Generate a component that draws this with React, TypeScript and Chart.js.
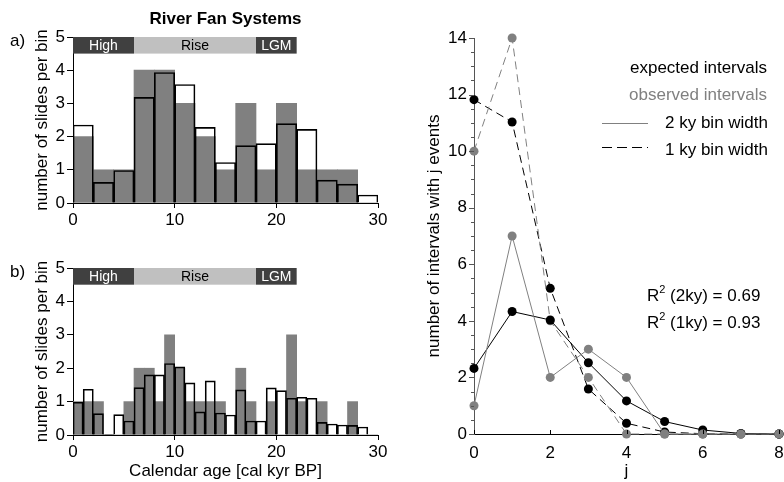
import React, { useEffect, useRef } from 'react';
import { Chart, registerables } from 'chart.js';

Chart.register(...registerables);

const FONT = "'Liberation Sans', Arial, Helvetica, sans-serif";
const GREY = '#808080';

// ---------- Panel a: 2 ky bins ----------
const bins2ky = ['0-2', '2-4', '4-6', '6-8', '8-10', '10-12', '12-14', '14-16', '16-18', '18-20', '20-22', '22-24', '24-26', '26-28', '28-30'];
const observed2ky = [2, 1, 1, 4, 4, 3, 2, 1, 3, 1, 3, 1, 1, 1, 0];
const expected2ky = [2.35, 0.62, 0.98, 3.18, 3.93, 3.57, 2.28, 1.22, 1.73, 1.79, 2.39, 2.22, 0.69, 0.57, 0.24];

// ---------- Panel b: 1 ky bins ----------
const bins1ky = ['0', '1', '2', '3', '4', '5', '6', '7', '8', '9', '10', '11', '12', '13', '14', '15', '16', '17', '18', '19', '20', '21', '22', '23', '24', '25', '26', '27', '28', '29'];
const observed1ky = [1, 1, 1, 0, 0, 1, 2, 2, 1, 3, 2, 1, 1, 1, 1, 0, 2, 1, 0, 1, 0, 3, 1, 0, 1, 0, 0, 1, 0, 0];
const expected1ky = [0.98, 1.37, 0.64, 0.02, 0.61, 0.42, 1.42, 1.8, 1.8, 2.14, 2.04, 1.56, 0.69, 1.62, 0.66, 0.6, 1.35, 0.42, 0.42, 1.41, 1.33, 1.1, 1.13, 1.1, 0.38, 0.33, 0.3, 0.29, 0.24, 0];

// ---------- sea-level phases ----------
const phaseNames = ['High', 'Rise', 'LGM'];
const phaseStart = [0, 6, 18];
const phaseEnd = [6, 18, 22];
const phaseBandLow = 4.5;
const phaseBandHigh = 5;

// ---------- tick labels ----------
const ageTicks = [0, 10, 20, 30];
const slideTicks = [0, 1, 2, 3, 4, 5];
const jTicks = [0, 2, 4, 6, 8];
const countTicks = [0, 2, 4, 6, 8, 10, 12, 14];

// ---------- Panel c: interval distributions ----------
const jValues = [0, 1, 2, 3, 4, 5, 6, 7, 8];
const expected2kyIntervals = [2.32, 4.33, 4.03, 2.52, 1.17, 0.44, 0.14, 0.02, 0];
const observed2kyIntervals = [1, 7, 2, 3, 2, 0, 0, 0, 0];
const expected1kyIntervals = [11.82, 11.03, 5.15, 1.59, 0.38, 0.07, 0.01, 0, 0];
const observed1kyIntervals = [10, 14, 4, 2, 0, 0, 0, 0, 0];

const phaseStyle: Record<string, { fill: string; text: string }> = {
  High: { fill: '#404040', text: '#ffffff' },
  Rise: { fill: '#c0c0c0', text: '#000000' },
  LGM: { fill: '#404040', text: '#ffffff' },
};

function font(size: number, bold = false) {
  return `${bold ? 'bold ' : ''}${size}px ${FONT}`;
}

function text(ctx: CanvasRenderingContext2D, s: string, x: number, y: number, size: number, opts: { bold?: boolean; color?: string; align?: CanvasTextAlign; rotate?: number } = {}) {
  ctx.save();
  ctx.font = font(size, opts.bold);
  ctx.fillStyle = opts.color || '#000';
  ctx.textAlign = opts.align || 'center';
  ctx.textBaseline = 'middle';
  ctx.translate(x, y);
  if (opts.rotate) ctx.rotate(opts.rotate);
  ctx.fillText(s, 0, 0);
  ctx.restore();
}

const W = 784;
const H = 482;

function histogramConfig(labels: string[], observed: number[], expected: number[], areaTop: number, areaBottom: number, letter: string, showTitle: boolean, showXTitle: boolean): any {
  const areaLeft = 73;
  const areaRight = 378;
  const yW = 50;
  const xH = 40;
  const plugin = {
    id: 'histDecor' + letter,
    afterDatasetsDraw(chart: any) {
      const ctx: CanvasRenderingContext2D = chart.ctx;
      const xs = chart.scales.x2;
      const ys = chart.scales.y;
      const ca = chart.chartArea;
      phaseNames.forEach((name, k) => {
        const x0 = xs.getPixelForValue(phaseStart[k]);
        const x1 = xs.getPixelForValue(phaseEnd[k]);
        const y0 = ys.getPixelForValue(phaseBandHigh);
        const y1 = ys.getPixelForValue(phaseBandLow);
        ctx.fillStyle = phaseStyle[name].fill;
        ctx.fillRect(x0, y0, x1 - x0, y1 - y0);
        text(ctx, name, (x0 + x1) / 2, (y0 + y1) / 2 + 1, 14, { color: phaseStyle[name].text });
      });
      text(ctx, letter, 10, ca.top + 4, 17, { align: 'left' });
      text(ctx, 'number of slides per bin', ca.left - 31, (ca.top + ca.bottom) / 2, 17, { rotate: -Math.PI / 2 });
      if (showTitle) text(ctx, 'River Fan Systems', (ca.left + ca.right) / 2, 19, 17, { bold: true });
      if (showXTitle) text(ctx, 'Calendar age [cal kyr BP]', (ca.left + ca.right) / 2, ca.bottom + 36, 17);
    },
  };
  return {
    type: 'bar',
    data: {
      labels,
      datasets: [
        {
          label: 'expected',
          data: expected,
          xAxisID: 'x',
          yAxisID: 'y',
          backgroundColor: 'rgba(0,0,0,0)',
          borderColor: '#000',
          borderWidth: 1,
          order: 0,
        },
        {
          label: 'observed',
          data: observed,
          xAxisID: 'x',
          yAxisID: 'y',
          backgroundColor: GREY,
          borderWidth: 0,
          order: 1,
        },
      ],
    },
    options: {
      responsive: false,
      animation: false,
      events: [],
      grouped: false,
      barPercentage: 1,
      categoryPercentage: 1,
      layout: { padding: { left: areaLeft - yW, right: W - areaRight, top: areaTop, bottom: H - areaBottom - xH } },
      plugins: { legend: { display: false }, tooltip: { enabled: false }, title: { display: false } },
      scales: {
        x: { type: 'category', display: false, offset: true },
        x2: {
          type: 'linear',
          position: 'bottom',
          offset: false,
          min: 0,
          max: 30,
          afterBuildTicks: (s: any) => { s.ticks = ageTicks.map((v) => ({ value: v })); },
          afterFit: (s: any) => { s.height = xH; s.paddingLeft = 0; s.paddingRight = 0; },
          grid: { display: true, offset: false, drawOnChartArea: false, drawTicks: true, tickLength: 5, color: '#000', lineWidth: 1 },
          border: { display: true, color: '#000', width: 1 },
          ticks: { color: '#000', font: { size: 17, family: FONT }, padding: 2, maxRotation: 0, autoSkip: false },
        },
        y: {
          type: 'linear',
          min: 0,
          max: 5,
          afterBuildTicks: (s: any) => { s.ticks = slideTicks.map((v) => ({ value: v })); },
          afterFit: (s: any) => { s.width = yW; s.paddingTop = 0; s.paddingBottom = 0; },
          grid: { display: true, drawOnChartArea: false, drawTicks: true, tickLength: 6, color: '#000', lineWidth: 1 },
          border: { display: true, color: '#000', width: 1 },
          ticks: { color: '#000', font: { size: 17, family: FONT }, padding: 2, autoSkip: false },
        },
      },
    },
    plugins: [plugin],
  };
}

function intervalConfig(): any {
  const areaLeft = 474;
  const areaRight = 779;
  const areaTop = 38;
  const areaBottom = 434;
  const yW = 50;
  const xH = 40;
  const pts = (arr: number[]) => jValues.map((j, k) => ({ x: j, y: arr[k] }));
  const base = { borderWidth: 1, pointRadius: 4.5, pointHoverRadius: 4.5, pointBorderWidth: 0, tension: 0, clip: false as any, fill: false };
  const plugin = {
    id: 'intervalDecor',
    afterDraw(chart: any) {
      const ctx: CanvasRenderingContext2D = chart.ctx;
      const xs = chart.scales.x;
      const ys = chart.scales.y;
      const ca = chart.chartArea;
      // y ticks (major + minor)
      ctx.save();
      ctx.strokeStyle = '#555';
      ctx.lineWidth = 1;
      for (let v = ys.min; v <= ys.max + 1e-9; v += 0.5) {
        const y = Math.round(ys.getPixelForValue(v)) + 0.5;
        const major = Math.abs(v / 2 - Math.round(v / 2)) < 1e-9;
        ctx.beginPath();
        ctx.moveTo(ca.left - (major ? 5 : 3), y);
        ctx.lineTo(ca.left, y);
        ctx.stroke();
      }
      ctx.strokeStyle = '#000';
      jTicks.forEach((v) => {
        const x = Math.round(xs.getPixelForValue(v)) + 0.5;
        ctx.beginPath();
        ctx.moveTo(x, ca.bottom);
        ctx.lineTo(x, ca.bottom - 4);
        ctx.stroke();
      });
      // legend
      text(ctx, 'expected intervals', 767, 68, 17, { align: 'right' });
      text(ctx, 'observed intervals', 767, 95, 17, { align: 'right', color: GREY });
      text(ctx, '2 ky bin width', 768, 123, 17, { align: 'right' });
      text(ctx, '1 ky bin width', 768, 150, 17, { align: 'right' });
      ctx.strokeStyle = GREY;
      ctx.beginPath();
      ctx.moveTo(602, 123.5);
      ctx.lineTo(648, 123.5);
      ctx.stroke();
      ctx.strokeStyle = '#000';
      ctx.setLineDash([10, 5]);
      ctx.beginPath();
      ctx.moveTo(602, 147.5);
      ctx.lineTo(648, 147.5);
      ctx.stroke();
      ctx.setLineDash([]);
      ctx.restore();
      // R^2 labels
      const r2 = (label: string, y: number) => {
        ctx.save();
        ctx.fillStyle = '#000';
        ctx.textAlign = 'left';
        ctx.textBaseline = 'middle';
        ctx.font = font(17);
        let x = 647;
        ctx.fillText('R', x, y);
        x += ctx.measureText('R').width;
        ctx.font = font(11);
        ctx.fillText('2', x, y - 6);
        x += ctx.measureText('2').width;
        ctx.font = font(17);
        ctx.fillText(label, x, y);
        ctx.restore();
      };
      r2(' (2ky) = 0.69', 296);
      r2(' (1ky) = 0.93', 323);
      text(ctx, 'number of intervals with j events', 434, (ca.top + ca.bottom) / 2, 17, { rotate: -Math.PI / 2 });
      text(ctx, 'j', (ca.left + ca.right) / 2, 471, 17);
    },
  };
  return {
    type: 'line',
    data: {
      datasets: [
        { ...base, label: 'observed 2 ky', data: pts(observed2kyIntervals), borderColor: GREY, backgroundColor: GREY, pointBackgroundColor: GREY, pointBorderColor: GREY, order: 0 },
        { ...base, label: 'expected 2 ky', data: pts(expected2kyIntervals), borderColor: '#000', backgroundColor: '#000', pointBackgroundColor: '#000', pointBorderColor: '#000', order: 1 },
        { ...base, label: 'observed 1 ky', data: pts(observed1kyIntervals), borderColor: GREY, backgroundColor: GREY, pointBackgroundColor: GREY, pointBorderColor: GREY, borderDash: [8, 5], order: 2 },
        { ...base, label: 'expected 1 ky', data: pts(expected1kyIntervals), borderColor: '#000', backgroundColor: '#000', pointBackgroundColor: '#000', pointBorderColor: '#000', borderDash: [8, 5], order: 3 },
      ],
    },
    options: {
      responsive: false,
      animation: false,
      events: [],
      layout: { padding: { left: areaLeft - yW, right: W - areaRight, top: areaTop, bottom: H - areaBottom - xH } },
      plugins: { legend: { display: false }, tooltip: { enabled: false }, title: { display: false } },
      scales: {
        x: {
          type: 'linear',
          min: 0,
          max: 8,
          afterBuildTicks: (s: any) => { s.ticks = jTicks.map((v) => ({ value: v })); },
          afterFit: (s: any) => { s.height = xH; s.paddingLeft = 0; s.paddingRight = 0; },
          grid: { display: false, drawTicks: false },
          border: { display: true, color: '#000', width: 1 },
          ticks: { color: '#000', font: { size: 17, family: FONT }, padding: 9, maxRotation: 0, autoSkip: false },
        },
        y: {
          type: 'linear',
          min: 0,
          max: 14,
          afterBuildTicks: (s: any) => { s.ticks = countTicks.map((v) => ({ value: v })); },
          afterFit: (s: any) => { s.width = yW; s.paddingTop = 0; s.paddingBottom = 0; },
          grid: { display: false, drawTicks: false },
          border: { display: true, color: '#555', width: 1 },
          ticks: { color: '#000', font: { size: 17, family: FONT }, padding: 7, autoSkip: false },
        },
      },
    },
    plugins: [plugin],
  };
}

export default function App() {
  const aRef = useRef<HTMLCanvasElement>(null);
  const bRef = useRef<HTMLCanvasElement>(null);
  const cRef = useRef<HTMLCanvasElement>(null);

  useEffect(() => {
    Chart.defaults.font.family = FONT;
    const charts = [
      new Chart(aRef.current as HTMLCanvasElement, histogramConfig(bins2ky, observed2ky, expected2ky, 37, 203, 'a)', true, false)),
      new Chart(bRef.current as HTMLCanvasElement, histogramConfig(bins1ky, observed1ky, expected1ky, 268, 435, 'b)', false, true)),
      new Chart(cRef.current as HTMLCanvasElement, intervalConfig()),
    ];
    return () => charts.forEach((c) => c.destroy());
  }, []);

  const cs: React.CSSProperties = { position: 'absolute', left: 0, top: 0, width: W, height: H };
  return (
    <div style={{ position: 'fixed', left: 0, top: 0, width: W, height: H, background: '#fff', overflow: 'hidden' }}>
      <canvas ref={aRef} width={W} height={H} style={cs} />
      <canvas ref={bRef} width={W} height={H} style={cs} />
      <canvas ref={cRef} width={W} height={H} style={cs} />
    </div>
  );
}
